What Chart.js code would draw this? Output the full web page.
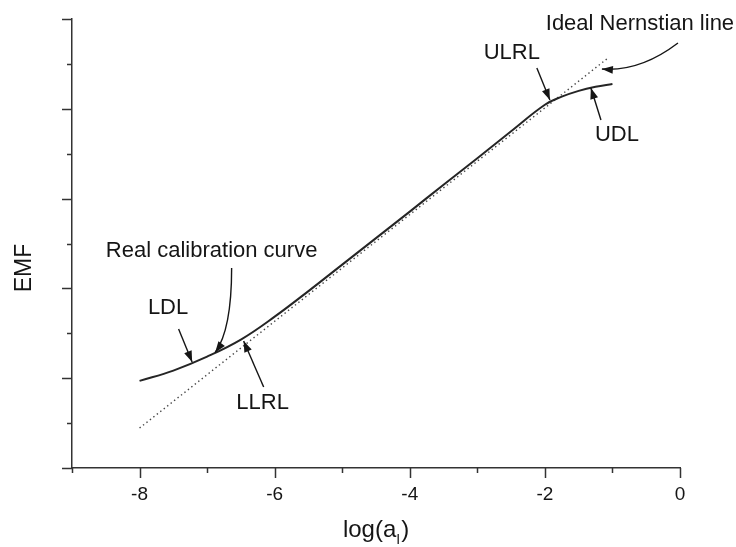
<!DOCTYPE html>
<html lang="en">
<head>
    <meta charset="UTF-8">
    <title>Calibration curve</title>
    <script src="https://cdn.jsdelivr.net/npm/chart.js@4.4.1/dist/chart.umd.min.js"></script>
    <style>
        body { margin: 0; background: #fff; }
    </style>
</head>
<body>
<canvas id="myChart" width="736" height="547"></canvas>
<script>
    // real electrode response, EMF vs log activity
    var realX = [-8, -7.5, -7, -6.5, -6, -5.5, -5, -4.5, -4, -3.5, -3, -2.5, -2, -1.75, -1.5, -1.25, -1];
    var realY = [1.94, 2.17, 2.48, 2.86, 3.37, 3.94, 4.53, 5.12, 5.71, 6.31, 6.90, 7.50, 8.09, 8.27, 8.40, 8.49, 8.55];
    // ideal nernstian straight line
    var idealX = [-8, -1.05];
    var idealY = [0.89, 9.15];
    var xTickLabels = ['-8', '-6', '-4', '-2', '0'];

    // text labels: [text, x, y]
    var notes = [
        ['Ideal Nernstian line', -0.593, 9.89],
        ['ULRL', -2.489, 9.24],
        ['UDL', -0.933, 7.42],
        ['Real calibration curve', -6.933, 4.84],
        ['LDL', -7.578, 3.56],
        ['LLRL', -6.178, 1.45]
    ];
    // arrows: from, (control), tip
    var arrows = [
        [[-0.03, 9.465], [-0.593, 8.82], [-1.156, 8.886]],
        [[-2.119, 8.909], null, [-1.926, 8.196]],
        [[-1.17, 7.751], null, [-1.319, 8.463]],
        [[-6.637, 4.454], [-6.637, 3.073], [-6.881, 2.572]],
        [[-7.422, 3.096], null, [-7.222, 2.361]],
        [[-6.163, 1.804], null, [-6.459, 2.829]]
    ];

    function pts(xs, ys) {
        return xs.map(function (x, i) { return {x: x, y: ys[i]}; });
    }

    var ink = '#151515';
    var face = '"Liberation Sans", Arial, sans-serif';

    var extras = {
        id: 'extras',
        afterDraw: function (chart) {
            var ctx = chart.ctx;
            var xs = chart.scales.x, ys = chart.scales.y;
            var area = chart.chartArea;
            ctx.save();
            ctx.strokeStyle = '#333';
            ctx.lineWidth = 1.5;
            // tick marks, long on even values
            for (var v = -9; v <= 0; v++) {
                var px = Math.round(xs.getPixelForValue(v)) + 0.5;
                var len = v % 2 === 0 ? 10 : 5;
                ctx.beginPath();
                ctx.moveTo(px, area.bottom);
                ctx.lineTo(px, area.bottom + len);
                ctx.stroke();
            }
            for (var w = 0; w <= 10; w++) {
                var py = Math.round(ys.getPixelForValue(w)) + 0.5;
                var l2 = w % 2 === 0 ? 10 : 5;
                ctx.beginPath();
                ctx.moveTo(area.left, py);
                ctx.lineTo(area.left - l2, py);
                ctx.stroke();
            }

            // annotations
            ctx.fillStyle = ink;
            ctx.font = '22px ' + face;
            ctx.textAlign = 'center';
            ctx.textBaseline = 'middle';
            notes.forEach(function (n) {
                ctx.fillText(n[0], xs.getPixelForValue(n[1]), ys.getPixelForValue(n[2]));
            });

            ctx.strokeStyle = ink;
            ctx.lineWidth = 1.4;
            arrows.forEach(function (a) {
                var x0 = xs.getPixelForValue(a[0][0]), y0 = ys.getPixelForValue(a[0][1]);
                var x1 = xs.getPixelForValue(a[2][0]), y1 = ys.getPixelForValue(a[2][1]);
                var cx = x0, cy = y0;
                ctx.beginPath();
                ctx.moveTo(x0, y0);
                if (a[1]) {
                    cx = xs.getPixelForValue(a[1][0]);
                    cy = ys.getPixelForValue(a[1][1]);
                    ctx.quadraticCurveTo(cx, cy, x1, y1);
                } else {
                    ctx.lineTo(x1, y1);
                }
                ctx.stroke();
                // head
                var ang = Math.atan2(y1 - cy, x1 - cx);
                var hl = 11, hw = 4;
                ctx.beginPath();
                ctx.moveTo(x1, y1);
                ctx.lineTo(x1 - hl * Math.cos(ang) + hw * Math.sin(ang), y1 - hl * Math.sin(ang) - hw * Math.cos(ang));
                ctx.lineTo(x1 - hl * Math.cos(ang) - hw * Math.sin(ang), y1 - hl * Math.sin(ang) + hw * Math.cos(ang));
                ctx.closePath();
                ctx.fill();
            });

            // axis titles
            ctx.font = '24px ' + face;
            ctx.textBaseline = 'alphabetic';
            ctx.textAlign = 'left';
            var main = 'log(a', sub = 'I', end = ')';
            var w1 = ctx.measureText(main).width;
            var w3 = ctx.measureText(end).width;
            ctx.font = '14px ' + face;
            var w2 = ctx.measureText(sub).width + 1;
            var tx = 376 - (w1 + w2 + w3) / 2;
            var ty = 537;
            ctx.font = '24px ' + face;
            ctx.fillText(main, tx, ty);
            ctx.fillText(end, tx + w1 + w2, ty);
            ctx.font = '14px ' + face;
            ctx.fillText(sub, tx + w1, ty + 7);

            ctx.font = '23px ' + face;
            ctx.translate(25, 268);
            ctx.rotate(-Math.PI / 2);
            ctx.textAlign = 'center';
            ctx.textBaseline = 'middle';
            ctx.fillText('EMF', 0, 0);
            ctx.restore();
        }
    };

    var ctx = document.querySelector('#myChart').getContext('2d');
    new Chart(ctx, {
        type: 'scatter',
        data: {
            datasets: [{
                label: 'Real calibration curve',
                data: pts(realX, realY),
                showLine: true,
                borderColor: '#252525',
                borderWidth: 2,
                pointRadius: 0,
                tension: 0.4
            }, {
                label: 'Ideal Nernstian line',
                data: pts(idealX, idealY),
                showLine: true,
                borderColor: '#444',
                borderWidth: 1.4,
                borderDash: [1.4, 3],
                pointRadius: 0
            }]
        },
        options: {
            responsive: false,
            animation: false,
            layout: {padding: {left: 0, right: 56, top: 19, bottom: 0}},
            plugins: {legend: {display: false}, tooltip: {enabled: false}},
            scales: {
                x: {
                    type: 'linear',
                    min: -9,
                    max: 0,
                    afterFit: function (s) { s.height = 79; },
                    grid: {drawOnChartArea: false, drawTicks: false},
                    border: {color: '#333', width: 1.5},
                    ticks: {
                        stepSize: 1,
                        padding: 15,
                        color: ink,
                        font: {family: face, size: 19},
                        callback: function (v) {
                            return v % 2 === 0 ? xTickLabels[(v + 8) / 2] : '';
                        }
                    }
                },
                y: {
                    min: 0,
                    max: 10,
                    afterFit: function (s) { s.width = 72; },
                    grid: {drawOnChartArea: false, drawTicks: false},
                    border: {color: '#333', width: 1.5},
                    ticks: {display: false, stepSize: 1}
                }
            }
        },
        plugins: [extras]
    });
</script>
</body>
</html>
